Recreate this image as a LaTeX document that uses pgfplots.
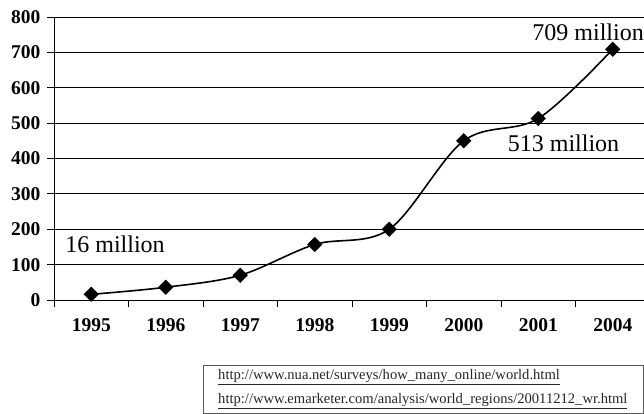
\documentclass[border=0pt]{standalone}
\usepackage{pgfplots}
\pgfplotsset{compat=1.18}
\usepackage{fontspec}
\setmainfont{Liberation Serif}
\begin{document}
\begin{tikzpicture}[x=1pt,y=1pt]
\begin{axis}[
  at={(54pt,114pt)}, anchor=south west,
  scale only axis, width=596pt, height=283pt,
  xmin=-0.5, xmax=7.5, ymin=0, ymax=800,
  axis x line*=bottom, axis y line*=left,
  axis line style={black, line width=0.8pt, -},
  ytick={0,100,...,800},
  xtick={-0.5,0.5,...,7.5},
  x tick label as interval,
  xticklabels={1995,1996,1997,1998,1999,2000,2001,2004},
  tick align=outside, major tick length=7pt,
  tick style={black, line width=0.8pt},
  ymajorgrids, major grid style={black, line width=0.8pt},
  /pgf/number format/assume math mode=true,
  /pgf/number format/1000 sep={},
  ticklabel style={font=\fontsize{19.5}{19.5}\selectfont\bfseries},
  yticklabel style={xshift=-3pt},
  xticklabel style={yshift=-8pt},
  clip=false,
]
\addplot[black, line width=1.6pt, smooth, tension=0.55, mark=square*, mark size=4.6pt, mark options={rotate=45, solid}]
  coordinates {(0,16) (1,36) (2,70) (3,157) (4,200) (5,450) (6,513) (7,709)};
\node[anchor=west, font=\fontsize{24}{24}\selectfont, inner sep=0pt] at (axis cs:-0.35,158) {16 million};
\node[anchor=west, font=\fontsize{24}{24}\selectfont, inner sep=0pt] at (axis cs:5.59,444) {513 million};
\node[anchor=west, font=\fontsize{24}{24}\selectfont, inner sep=0pt] at (axis cs:5.92,757) {709 million};
\end{axis}
\draw[gray!70!black, line width=0.8pt] (203,1) rectangle (643,49);
\node[anchor=base west, inner sep=0pt, font=\fontsize{14.6}{14.6}\selectfont, text=black!85] at (218,34) {\underline{http://www.nua.net/surveys/how\_many\_online/world.html}};
\node[anchor=base west, inner sep=0pt, font=\fontsize{14.6}{14.6}\selectfont, text=black!85] at (218,10) {\underline{http://www.emarketer.com/analysis/world\_regions/20011212\_wr.html}};
\pgfresetboundingbox
\useasboundingbox (0,0) rectangle (644,414);
\end{tikzpicture}
\end{document}
